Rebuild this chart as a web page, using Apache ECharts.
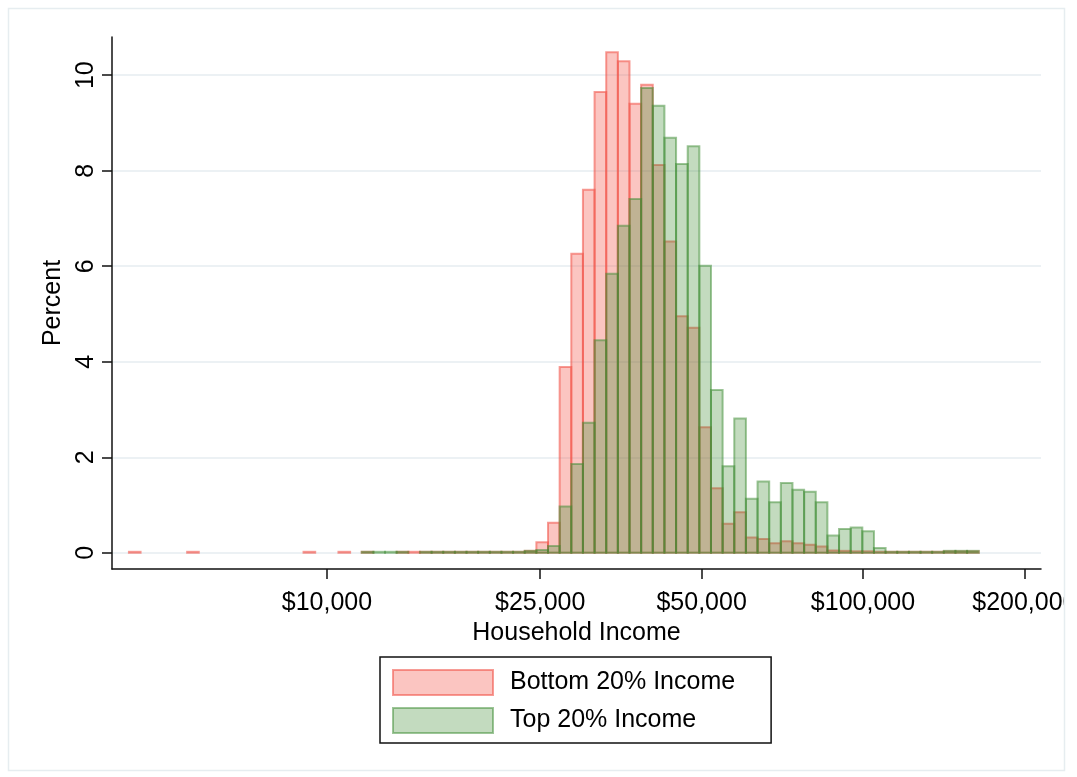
<!DOCTYPE html>
<html>
<head>
<meta charset="utf-8">
<title>Household Income histogram</title>
<script src="https://cdn.jsdelivr.net/npm/echarts@6/dist/echarts.min.js"></script>
<style>
  html, body { margin: 0; padding: 0; background: #fff; }
  #chart { width: 1077px; height: 777px; }
</style>
</head>
<body>
<div id="chart"></div>
<script>
// bins are on ln(income), 0.05 wide, first bin starts at binStartLn
const binStartLn = 8.36
const binWidthLn = 0.05

const bottomPct = [
  0.02, 0, 0, 0, 0, 0.02, 0, 0, 0, 0, 0, 0, 0, 0, 0, 0.02, 0, 0, 0.02, 0,
  0.02, 0, 0, 0.02, 0.02, 0.02, 0.02, 0.02, 0.02, 0.02, 0.02, 0.02, 0.02, 0.02, 0.04,
  0.22, 0.63,
  3.89, 6.26, 7.60, 9.65, 10.48, 10.29, 9.40, 9.80, 8.12, 6.52, 4.95, 4.71, 2.63, 1.35,
  0.61, 0.85, 0.32, 0.29, 0.20, 0.24, 0.20, 0.17, 0.13, 0.05, 0.04, 0.03, 0.03, 0.02,
  0.02, 0.02, 0.02, 0.02, 0.02, 0.03, 0.03, 0.03
]
const topPct = [
  0, 0, 0, 0, 0, 0, 0, 0, 0, 0, 0, 0, 0, 0, 0, 0, 0, 0, 0, 0,
  0.02, 0.02, 0.02, 0.02, 0, 0.02, 0.02, 0.02, 0.02, 0.02, 0.02, 0.02, 0.02, 0.02, 0.04,
  0.06, 0.14,
  0.97, 1.86, 2.72, 4.45, 5.84, 6.85, 7.41, 9.73, 9.36, 8.69, 8.14, 8.51, 6.01, 3.41,
  1.81, 2.81, 1.13, 1.49, 1.06, 1.46, 1.32, 1.28, 1.06, 0.36, 0.50, 0.53, 0.45, 0.10,
  0.02, 0.02, 0.02, 0.02, 0.02, 0.04, 0.04, 0.04
]

const tickIncome = [10000, 25000, 50000, 100000, 200000]
const tickLabels = ['$10,000', '$25,000', '$50,000', '$100,000', '$200,000']
const yTicks = [0, 2, 4, 6, 8, 10]
const seriesNames = ['Bottom 20% Income', 'Top 20% Income']

const font = '"Liberation Sans", Helvetica, Arial, sans-serif'
const redFill = 'rgba(242, 84, 74, 0.34)'
const redLine = 'rgba(242, 84, 74, 0.58)'
const greenFill = 'rgba(60, 140, 50, 0.31)'
const greenLine = 'rgba(60, 140, 50, 0.5)'

const tickLn = tickIncome.map(function (v) { return Math.log(v) })

function binData (pcts) {
  const rows = []
  pcts.forEach(function (p, i) {
    if (p > 0) rows.push([binStartLn + i * binWidthLn, binStartLn + (i + 1) * binWidthLn, p])
  })
  return rows
}

function barRenderer (fill, stroke) {
  return function (params, api) {
    const top = api.coord([api.value(0), api.value(2)])
    const base = api.coord([api.value(1), 0])
    return {
      type: 'rect',
      shape: { x: top[0], y: top[1], width: base[0] - top[0], height: base[1] - top[1] },
      style: { fill: fill, stroke: stroke, lineWidth: 2 }
    }
  }
}

const chart = echarts.init(document.getElementById('chart'))
chart.setOption({
  animation: false,
  backgroundColor: '#fff',
  grid: { left: 112, right: 36, top: 37, bottom: 208, outerBoundsMode: 'none' },
  xAxis: {
    type: 'value',
    min: Math.log(3973),
    max: Math.log(214800),
    name: 'Household Income',
    nameLocation: 'middle',
    nameGap: 45,
    nameTextStyle: { fontSize: 25, color: '#000', fontFamily: font },
    axisLine: { onZero: false, lineStyle: { color: '#111', width: 1.5 } },
    axisTick: { show: true, length: 10, lineStyle: { color: '#111', width: 1.5 }, customValues: tickLn },
    axisLabel: {
      customValues: tickLn,
      margin: 22,
      fontSize: 25,
      color: '#000',
      fontFamily: font,
      formatter: function (v) {
        let best = 0
        tickLn.forEach(function (t, i) { if (Math.abs(t - v) < Math.abs(tickLn[best] - v)) best = i })
        return tickLabels[best]
      }
    },
    splitLine: { show: false }
  },
  yAxis: {
    type: 'value',
    min: -0.34,
    max: 10.8,
    name: 'Percent',
    nameLocation: 'middle',
    nameGap: 45,
    nameTextStyle: { fontSize: 25, color: '#000', fontFamily: font },
    axisLine: { show: true, onZero: false, lineStyle: { color: '#111', width: 1.5 } },
    axisTick: { show: true, length: 10, lineStyle: { color: '#111', width: 1.5 }, customValues: yTicks },
    axisLabel: { customValues: yTicks, rotate: 90, margin: 13, fontSize: 25, color: '#000', fontFamily: font },
    splitLine: { show: true, lineStyle: { color: '#e6edf0', width: 1.5 } }
  },
  legend: {
    orient: 'vertical',
    left: 380,
    top: 657,
    padding: [12, 36, 9, 12],
    itemWidth: 100,
    itemHeight: 25,
    itemGap: 11,
    borderColor: '#111',
    borderWidth: 1.5,
    selectedMode: false,
    textStyle: { fontSize: 25, lineHeight: 25, color: '#000', fontFamily: font, padding: [0, 0, 0, 12] },
    data: [
      { name: seriesNames[0], icon: 'rect', itemStyle: { color: redFill, borderColor: redLine, borderWidth: 2 } },
      { name: seriesNames[1], icon: 'rect', itemStyle: { color: greenFill, borderColor: greenLine, borderWidth: 2 } }
    ]
  },
  graphic: [
    { type: 'rect', z: 100, shape: { x: 1065, y: 0, width: 12, height: 777 }, style: { fill: '#fff' } },
    { type: 'rect', z: 101, shape: { x: 8.5, y: 8.5, width: 1056, height: 762 }, style: { fill: 'none', stroke: '#e6edf0', lineWidth: 1.5 } }
  ],
  series: [
    {
      name: seriesNames[0],
      type: 'custom',
      renderItem: barRenderer(redFill, redLine),
      encode: { x: [0, 1], y: 2 },
      itemStyle: { color: redFill, borderColor: redLine },
      data: binData(bottomPct)
    },
    {
      name: seriesNames[1],
      type: 'custom',
      renderItem: barRenderer(greenFill, greenLine),
      encode: { x: [0, 1], y: 2 },
      itemStyle: { color: greenFill, borderColor: greenLine },
      data: binData(topPct)
    }
  ]
})
</script>
</body>
</html>
